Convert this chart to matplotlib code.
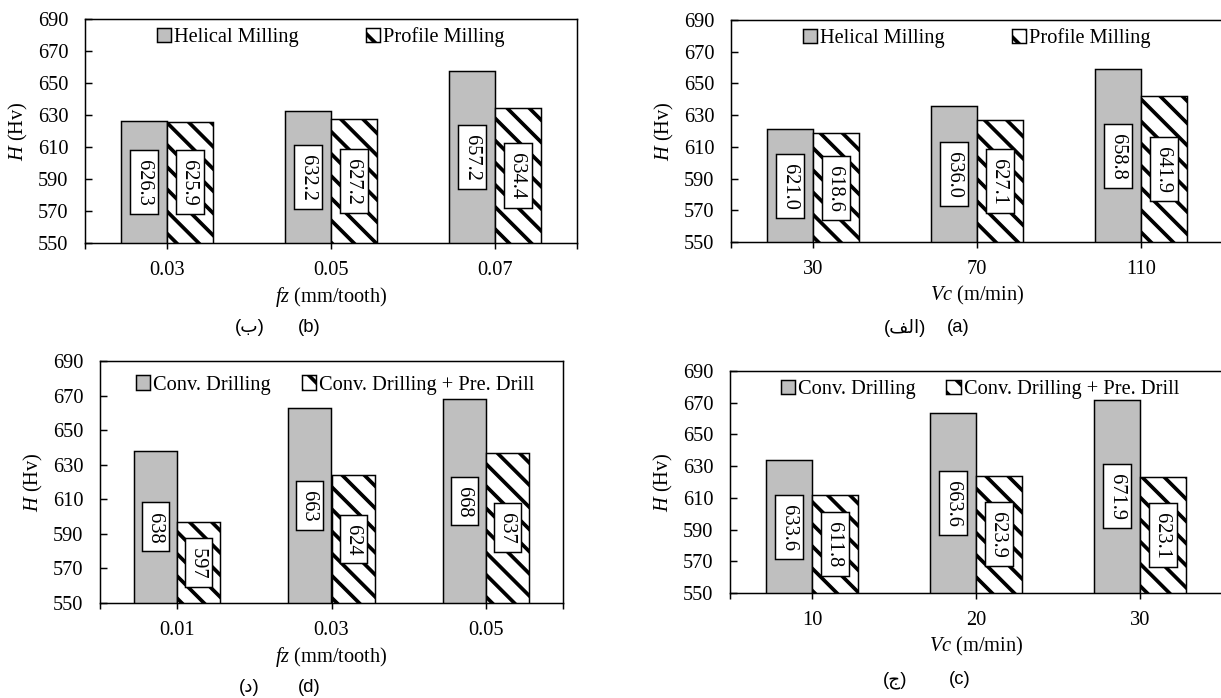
import matplotlib
matplotlib.use("Agg")
import matplotlib.pyplot as plt
import numpy as np

plt.rcParams['font.family'] = ['Liberation Serif', 'DejaVu Sans']
plt.rcParams['mathtext.fontset'] = 'custom'
plt.rcParams['mathtext.rm'] = 'Liberation Serif'
plt.rcParams['mathtext.it'] = 'Liberation Serif:italic'
plt.rcParams['hatch.linewidth'] = 2.0
plt.rcParams['hatch.color'] = 'black'

# ---- data ----
b_cats = ['0.03', '0.05', '0.07']
b_helical = [626.3, 632.2, 657.2]
b_profile = [625.9, 627.2, 634.4]

a_cats = ['30', '70', '110']
a_helical = [621.0, 636.0, 658.8]
a_profile = [618.6, 627.1, 641.9]

d_cats = ['0.01', '0.03', '0.05']
d_conv = [638, 663, 668]
d_pre = [597, 624, 637]

c_cats = ['10', '20', '30']
c_conv = [633.6, 663.6, 671.9]
c_pre = [611.8, 623.9, 623.1]

milling_names = ['Helical Milling', 'Profile Milling']
drilling_names = ['Conv. Drilling', 'Conv. Drilling + Pre. Drill']
yticks = list(range(550, 691, 20))

W, H = 1221, 698
DPI = 133.33
fig = plt.figure(figsize=(W / DPI, H / DPI), dpi=DPI)

def rect(left, top, right, bottom):
    return [left / W, (H - bottom) / H, (right - left) / W, (bottom - top) / H]

FS = 11
GRAY = '#BFBFBF'

def panel(r, cats, s1, s2, names, xlabel, fmt, leg_anchor, colsp, legpad):
    ax = fig.add_axes(r)
    x = np.arange(len(cats))
    w = 0.28
    b1 = ax.bar(x - w / 2, s1, w, color=GRAY, edgecolor='black', linewidth=0.8,
                label=names[0], zorder=2)
    b2 = ax.bar(x + w / 2, s2, w, color='white', edgecolor='black', linewidth=0.8,
                hatch='\\\\', label=names[1], zorder=2)
    ax.set_ylim(550, 690)
    ax.set_xlim(-0.5, len(cats) - 0.5)
    ax.set_yticks(yticks)
    ax.set_xticks(x)
    ax.set_xticklabels(cats)
    ax.set_xticks([-0.5, len(cats) - 0.5], minor=True)
    ax.tick_params(axis='y', direction='in', length=4, width=0.8, pad=9, labelsize=FS)
    ax.tick_params(axis='x', which='both', direction='out', length=3.5, width=0.8,
                   pad=6, labelsize=FS)
    for sp in ax.spines.values():
        sp.set_linewidth(0.8)
    for cont, vals in ((b1, s1), (b2, s2)):
        labels = [' ' + (fmt % v) + ' ' for v in vals]
        ax.bar_label(cont, labels=labels, label_type='center', rotation=270, fontsize=FS,
                     bbox=dict(boxstyle='square,pad=0.2', fc='white', ec='black', lw=0.8))
    ax.set_xlabel(xlabel, fontsize=FS, labelpad=3)
    ax.set_ylabel('$H$ (Hv)', fontsize=FS, labelpad=4)
    ax.legend(loc='upper center', bbox_to_anchor=leg_anchor, ncol=2, frameon=False,
              fontsize=FS, handlelength=0.7, handleheight=0.7, handletextpad=0.15,
              columnspacing=colsp, borderaxespad=legpad)
    return ax

panel(rect(85, 19, 577, 243), b_cats, b_helical, b_profile, milling_names,
      '$fz$ (mm/tooth)', '%.1f', (0.5, 1.0), 3.3, 0.0)
panel(rect(731, 20, 1223, 242), a_cats, a_helical, a_profile, milling_names,
      '$Vc$ (m/min)', '%.1f', (0.5, 1.0), 3.3, 0.0)
panel(rect(100, 361, 563, 603), d_cats, d_conv, d_pre, drilling_names,
      '$fz$ (mm/tooth)', '%.0f', (0.508, 1.0), 1.5, 0.3)
panel(rect(730, 371, 1222, 593), c_cats, c_conv, c_pre, drilling_names,
      '$Vc$ (m/min)', '%.1f', (0.508, 1.0), 1.5, 0.05)

cap_font = ['Liberation Sans', 'DejaVu Sans']
def caption(x_fa, x_en, y, fa, en):
    fig.text(x_fa / W, 1 - y / H, fa, ha='center', va='center', fontsize=FS - 1,
             family=cap_font)
    fig.text(x_en / W, 1 - y / H, en, ha='center', va='center', fontsize=FS - 1,
             family=cap_font)

caption(250, 309, 328, '(\u0628)', '(b)')
caption(905, 958, 328, '(\ufed2\ufedf\ufe8d)', '(a)')
caption(249, 309, 687, '(\u062f)', '(d)')
caption(895, 960, 680, '(\u062c)', '(c)')

fig.savefig('out.png', dpi=DPI)
